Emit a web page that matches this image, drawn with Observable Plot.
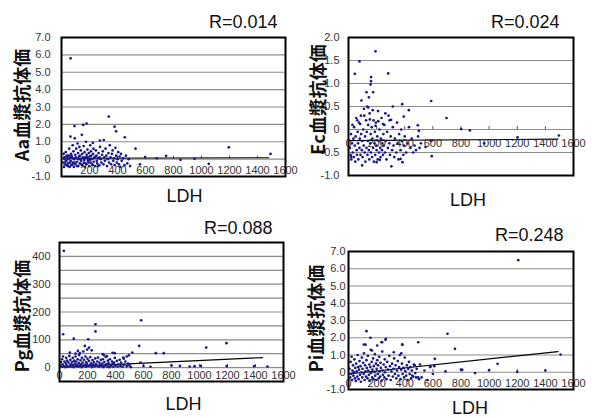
<!DOCTYPE html>
<html><head><meta charset="utf-8">
<script src="https://cdn.jsdelivr.net/npm/d3@7"></script>
<script src="https://cdn.jsdelivr.net/npm/@observablehq/plot@0.6"></script>
<style>
body{margin:0;background:#fff;}
#wrap{position:relative;width:592px;height:418px;overflow:hidden;background:#fff;}
.panel{position:absolute;}
.panel svg{overflow:visible;}
</style></head><body><div id="wrap"></div>
<script>
// ---------- data ----------
const xTicks = [0,200,400,600,800,1000,1200,1400,1600];

const aaPoints = [
 [65,5.8],[93,1.9],[155,1.97],[179,2.05],[338,2.45],[379,1.87],[390,1.6],[452,1.26],[274,1.07],[302,1.1],[224,0.94],[529,0.6],
 [1195,0.68],[1493,0.3],[1052,-0.27],[850,-0.04],[747,0.19],[597,0.12],[560,-0.3],[680,0.05],[950,0.02],
 [20,0.1],[25,-0.3],[30,0.4],[35,-0.1],[40,0.2],[45,-0.4],[50,0.0],[55,0.6],[60,-0.2],[64,1.3],[68,0.3],[70,-0.35],[75,0.1],[80,0.8],
 [82,-0.2],[85,0.45],[88,-0.45],[90,0.0],[95,1.2],[98,0.25],[100,-0.3],[105,0.6],[108,0.05],[110,-0.15],[115,0.9],[118,0.35],[120,-0.4],
 [125,0.15],[128,0.7],[130,-0.25],[135,0.0],[138,0.5],[140,-0.1],[145,1.4],[148,0.3],[150,-0.35],[155,0.05],[158,0.75],[160,-0.2],
 [165,0.4],[168,-0.45],[170,0.1],[175,1.0],[178,-0.3],[180,0.25],[185,0.55],[188,-0.1],[190,0.0],[195,0.35],[198,-0.4],[200,0.15],
 [205,0.8],[208,-0.2],[210,0.45],[215,0.0],[220,-0.3],[225,0.3],[228,0.6],[230,-0.15],[235,0.1],[240,-0.4],[245,0.5],[250,0.2],
 [255,-0.25],[260,0.05],[265,0.35],[270,-0.35],[275,0.7],[280,0.0],[285,-0.2],[290,0.25],[295,0.45],[300,-0.3],[305,0.1],[310,-0.1],
 [315,0.6],[320,0.2],[325,-0.4],[330,0.0],[335,0.35],[340,-0.2],[345,0.8],[350,0.1],[355,-0.3],[360,0.3],[365,0.5],[370,-0.1],
 [375,0.05],[380,-0.35],[385,0.65],[390,0.2],[395,-0.2],[400,0.0],[405,0.4],[410,-0.3],[415,0.15],[420,-0.45],[425,0.3],[430,-0.1],
 [440,0.05],[450,-0.35],[460,0.2],[470,-0.25],[480,0.0],[490,-0.4],
 [12,-0.2],[15,0.3],[18,-0.45],[22,0.0],[28,-0.15],[33,0.15],[38,-0.35],[42,0.05],[47,-0.25],[52,0.2],[58,-0.45],[62,0.1],[66,-0.1],
 [72,0.2],[78,-0.3],[84,0.05],[92,-0.2],[102,0.1],[112,-0.4],[122,0.0],[132,0.2],[142,-0.3],[152,0.1],[162,-0.05],[172,-0.25],
 [182,0.1],[192,-0.2],[202,-0.05],[212,0.2],[222,-0.35],[232,0.05],[242,0.15],[252,-0.1],[262,-0.4],[272,0.1]
];
const aaTrend = [[0,0.05],[1480,0.08]];

const ecPoints = [
 [192,1.7],[78,1.48],[45,1.21],[161,1.14],[282,1.22],[588,0.62],[697,0.25],[592,-0.58],[97,-0.78],[305,-0.8],[157,0.98],[128,0.81],
 [175,0.81],[92,0.63],[145,0.7],[140,0.48],[315,0.5],[382,0.55],[429,0.42],[801,0.01],[863,-0.02],[965,-0.3],[1202,-0.17],[1496,-0.13],
 [160,1.05],[590,-0.25],[303,0.21],[393,0.28],[493,0.09],[500,-0.03],[583,-0.24],[548,-0.38],[384,-0.71],[370,-0.64],[223,-0.66],
 [200,-0.71],[19,-0.59],
 [10,-0.4],[15,-0.55],[18,-0.1],[20,-0.65],[25,-0.3],[28,0.1],[30,-0.5],[35,-0.2],[38,-0.6],[40,0.05],[45,-0.35],[48,-0.7],[50,-0.15],
 [55,0.25],[58,-0.45],[60,-0.55],[65,-0.05],[68,-0.3],[70,-0.65],[75,0.15],[78,-0.4],[80,-0.2],[85,-0.55],[88,0.3],[90,-0.1],[95,-0.45],
 [98,-0.25],[100,-0.6],[105,0.0],[108,-0.35],[110,0.45],[115,-0.5],[118,-0.15],[120,-0.7],[125,0.2],[128,-0.4],[130,-0.05],[135,-0.55],
 [138,-0.25],[140,0.1],[145,-0.45],[148,-0.65],[150,0.35],[155,-0.3],[158,-0.1],[160,-0.5],[165,0.05],[168,-0.6],[170,-0.2],[175,-0.4],
 [178,0.2],[180,-0.7],[185,-0.3],[188,-0.05],[190,-0.55],[195,0.15],[198,-0.35],[200,-0.45],[205,-0.15],[208,-0.65],[210,0.4],[215,-0.25],
 [218,-0.5],[220,0.0],[225,-0.4],[228,-0.6],[230,-0.2],[235,0.25],[238,-0.45],[240,-0.3],[245,-0.55],[248,-0.1],[250,-0.35],[255,0.1],
 [260,-0.5],[265,-0.25],[270,-0.65],[275,-0.05],[280,-0.4],[285,0.3],[290,-0.3],[295,-0.55],[300,-0.15],[310,-0.45],[315,0.05],[320,-0.35],
 [325,-0.6],[330,-0.2],[340,-0.5],[345,0.15],[350,-0.3],[355,-0.65],[360,-0.1],[370,-0.45],[375,0.0],[380,-0.25],[390,-0.55],[395,-0.35],
 [400,-0.15],[410,-0.5],[420,-0.3],[430,0.05],[440,-0.4],[450,-0.2],[460,-0.5],[470,-0.35],[480,-0.45],[495,-0.15],[505,-0.4],[515,-0.3],
 [62,0.2],[83,0.12],[112,0.3],[133,0.5],[152,0.22],[172,0.42],[192,0.08],[212,0.18],[245,0.12],[262,0.35],[292,0.2]
];
const ecTrend = [[0,-0.24],[1490,-0.21]];

const pgPoints = [
 [31,420],[26,120],[102,104],[257,156],[257,130],[205,102],[181,78],[211,72],[583,170],[569,78],[1048,72],[1193,88],[688,52],[745,52],
 [579,18],[860,6],[964,5],[1010,6],[1195,5],[1390,5],[1486,4],[800,8],[74,54],[145,52],[317,45],[395,52],[520,54],[170,58],[230,62],
 [480,40],[600,6],[650,3],[930,4],[114,50],[131,60],[198,65],[309,48],[338,41],[379,53],[459,32],[496,44],
 [5,8],[10,20],[15,3],[18,30],[22,12],[25,40],[30,5],[35,22],[40,2],[45,15],[48,35],[50,8],[55,25],[60,3],[65,18],[70,42],[72,6],[78,28],
 [82,12],[85,4],[90,20],[95,35],[98,9],[100,2],[105,25],[110,14],[115,40],[118,5],[120,22],[125,10],[130,30],[135,3],[138,16],[140,45],
 [145,7],[150,26],[155,12],[158,2],[160,35],[165,18],[170,6],[175,28],[180,10],[185,40],[188,3],[190,20],[195,14],[200,32],[205,5],
 [210,24],[215,9],[220,38],[225,15],[230,2],[235,27],[240,11],[245,20],[250,4],[255,33],[260,13],[265,7],[270,22],[275,36],[280,3],
 [285,17],[290,9],[295,28],[300,5],[305,14],[310,30],[315,2],[320,20],[325,8],[330,38],[335,12],[340,4],[345,25],[350,16],[355,2],
 [360,30],[365,10],[370,6],[375,22],[380,14],[385,3],[390,18],[395,35],[400,8],[410,24],[415,4],[420,12],[430,28],[435,6],[440,18],
 [450,3],[455,36],[460,10],[470,22],[480,5],[490,14],[500,8],[510,2]
];
const pgTrend = [[0,2],[1450,36]];

const piPoints = [
 [1207,6.5],[704,2.23],[757,1.36],[496,1.74],[128,2.38],[156,2.0],[266,1.94],[235,1.75],[384,1.6],[1060,0.49],[614,0.78],[1508,1.03],
 [121,1.6],[540,0.1],[600,-0.1],[690,0.05],[800,0.15],[900,-0.05],[1000,0.12],[1200,0.02],[1400,0.1],[580,0.3],[610,0.35],[470,0.4],
 [520,-0.3],[560,-0.45],[109,1.61],[239,1.74],[263,1.88],[204,1.55],[167,1.26],[322,1.16],[382,1.61],[375,1.1],[583,0.33],[509,0.45],
 [809,0.14],[453,-0.19],[480,-0.3],[502,-0.4],
 [8,0.2],[12,-0.3],[15,0.6],[18,-0.1],[22,0.9],[25,-0.45],[28,0.1],[32,0.4],[35,-0.2],[38,0.0],[42,0.75],[45,-0.35],[48,0.25],[52,-0.5],
 [55,0.5],[58,0.05],[62,-0.25],[65,1.0],[68,0.3],[72,-0.4],[75,0.15],[78,0.65],[82,-0.15],[85,0.35],[88,-0.55],[92,0.0],[95,0.85],
 [98,-0.3],[100,0.2],[105,0.55],[108,-0.1],[110,1.1],[115,-0.45],[118,0.4],[120,0.05],[125,-0.25],[128,0.7],[130,0.25],[135,-0.35],
 [138,0.95],[140,0.1],[145,-0.15],[148,0.45],[150,-0.5],[155,0.3],[158,1.3],[160,-0.05],[165,0.6],[168,-0.3],[170,0.15],[175,0.8],
 [178,-0.4],[180,0.35],[185,0.0],[188,1.05],[190,-0.2],[195,0.5],[198,-0.45],[200,0.2],[205,0.7],[208,-0.1],[210,0.4],[215,-0.35],
 [218,0.9],[220,0.05],[225,-0.25],[228,0.55],[230,0.25],[235,-0.5],[240,1.2],[242,0.1],[245,-0.15],[250,0.45],[255,-0.3],[258,0.75],
 [260,0.0],[265,0.3],[270,-0.4],[275,0.6],[280,0.15],[285,-0.2],[290,0.95],[295,0.35],[300,-0.45],[305,0.05],[310,0.5],[315,-0.25],
 [320,0.2],[325,0.8],[330,-0.1],[335,0.4],[340,-0.35],[345,0.1],[350,0.65],[355,-0.2],[360,0.3],[365,1.0],[370,-0.4],[375,0.15],
 [380,0.5],[385,-0.1],[390,0.25],[395,-0.3],[400,0.85],[405,0.05],[410,-0.2],[415,0.4],[420,-0.45],[425,0.2],[430,0.6],[435,-0.1],
 [440,0.3],[445,-0.35],[450,0.1],[460,-0.25],[465,0.45],[475,-0.05],[485,0.2],[495,-0.3]
];
const piTrend = [[0,-0.1],[1490,1.2]];

const titles = ["R=0.014","R=0.024","R=0.088","R=0.248"];
const yLabels = ["Aa血漿抗体価","Ec血漿抗体価","Pg血漿抗体価","Pi血漿抗体価"];
const xTitle = "LDH";
const aaGrid = [-1,0,1,2,3,4,5,6,7];
const ecGrid = [-1,-0.5,0,0.5,1,1.5,2];
const pgGrid = [-50,0,50,100,150,200,250,300,350,400,450];
const pgTickLabels = [0,100,200,300,400];
const piGrid = [-1,0,1,2,3,4,5,6,7];

// ---------- drawing ----------
const fmt1 = d => d === 0 ? "0" : d.toFixed(1);
const fmtInt = d => String(d);

function makePanel(c) {
  const P = d => d;
  return Plot.plot({
    width: 296, height: 209,
    marginLeft: c.m[0], marginRight: c.m[1], marginTop: c.m[2], marginBottom: c.m[3],
    x: {domain: [0,1600], axis: null},
    y: {domain: c.yDomain},
    style: {fontFamily: "'Liberation Sans', Arial, sans-serif", background: "transparent", overflow: "visible"},
    marks: [
      Plot.gridY(c.grid, {stroke: "#8c8c8c", strokeOpacity: 1, strokeWidth: 1.2}),
      Plot.axisY(c.yTicks, {tickSize: 0, tickPadding: c.yPad, tickFormat: c.fmt, fontSize: 11, fill: "#333", label: null}),
      Plot.ruleX(xTicks, {x: P, y1: 0, y2: c.tickLen, stroke: "#555"}),
      Plot.line(c.trend, {x: d => d[0], y: d => d[1], stroke: "black", strokeWidth: 1.2}),
      Plot.dot(c.points, {x: d => d[0], y: d => d[1], r: 1.35, fill: "#17178a"}),
      Plot.text(c.xLabels, {x: P, y: 0, dy: c.xLabDy, fontSize: 11, fill: "#333", text: d => String(d)}),
      Plot.frame({stroke: "black", strokeWidth: 2}),
      Plot.text([c.title], {frameAnchor: "top-right", textAnchor: "end", lineAnchor: "middle",
        dx: c.tPos[0], dy: c.tPos[1], fontSize: 18, fill: "#111"}),
      Plot.text([xTitle], {frameAnchor: "bottom", textAnchor: "middle", lineAnchor: "middle",
        dx: c.lPos[0], dy: c.lPos[1], fontSize: 18, fill: "#111"}),
      Plot.text([c.yLabel], {frameAnchor: "left", textAnchor: "middle", lineAnchor: "middle", rotate: -90,
        dx: c.yPos[0], dy: c.yPos[1], fontSize: 18, fontWeight: 600, fill: "#111",
        fontFamily: "'Noto Sans CJK JP', sans-serif"})
    ]
  });
}

const panels = [
  {left: 0, top: 0, m: [61,11,37,33], yDomain: [-1,7], grid: aaGrid, yTicks: aaGrid, fmt: fmt1, yPad: 11,
   points: aaPoints, trend: aaTrend, xLabels: xTicks.slice(1), xLabDy: 11, tickLen: 0.17,
   title: titles[0], tPos: [-8,-15], lPos: [11,20], yLabel: yLabels[0], yPos: [-38.5,-2]},
  {left: 296, top: 0, m: [52,19,37,34], yDomain: [-1,2], grid: ecGrid, yTicks: ecGrid, fmt: fmt1, yPad: 9,
   points: ecPoints, trend: ecTrend, xLabels: xTicks, xLabDy: 14, tickLen: 0.065,
   title: titles[1], tPos: [-14,-15], lPos: [7,25], yLabel: yLabels[1], yPos: [-29.5,-7]},
  {left: 0, top: 209, m: [59,13,33,37], yDomain: [-50,450], grid: pgGrid, yTicks: pgTickLabels, fmt: fmtInt, yPad: 9,
   points: pgPoints, trend: pgTrend, xLabels: xTicks, xLabDy: 8, tickLen: 11,
   title: titles[2], tPos: [-11,-14], lPos: [12,23], yLabel: yLabels[2], yPos: [-36.5,4]},
  {left: 296, top: 209, m: [52,19,42,29], yDomain: [-1,7], grid: piGrid, yTicks: piGrid, fmt: fmt1, yPad: 3,
   points: piPoints, trend: piTrend, xLabels: xTicks, xLabDy: 11, tickLen: 0.17,
   title: titles[3], tPos: [-10,-16], lPos: [9,19], yLabel: yLabels[3], yPos: [-31,-2]}
];

const wrap = document.getElementById("wrap");
for (const c of panels) {
  const div = document.createElement("div");
  div.className = "panel";
  div.style.left = c.left + "px";
  div.style.top = c.top + "px";
  div.appendChild(makePanel(c));
  wrap.appendChild(div);
}
</script>
</body></html>
